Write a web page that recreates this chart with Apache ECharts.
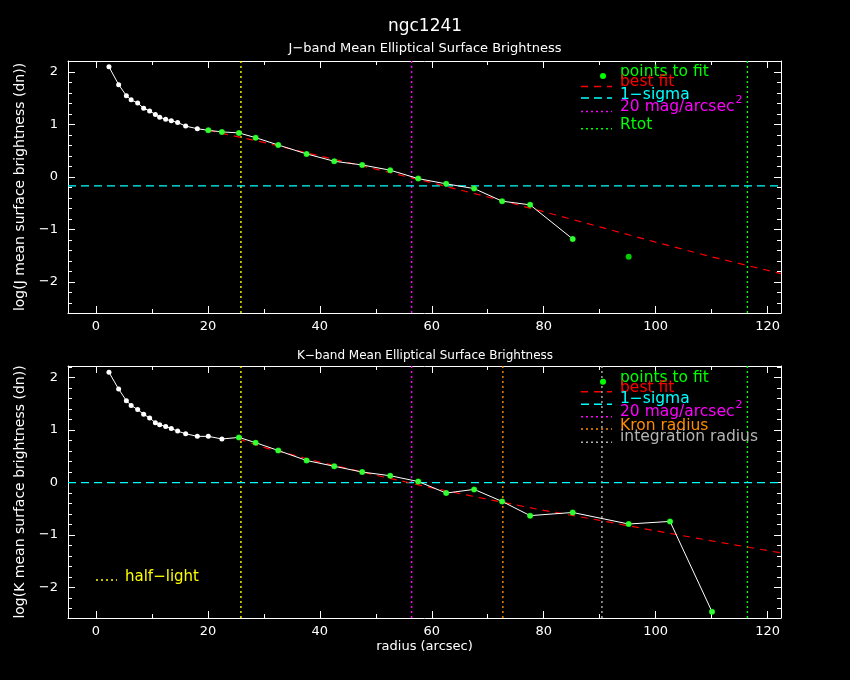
<!DOCTYPE html>
<html>
<head>
<meta charset="utf-8">
<script src="https://cdn.jsdelivr.net/npm/echarts@6/dist/echarts.min.js"></script>
<style>
html,body{margin:0;padding:0;background:#000;}
#chart{width:850px;height:680px;}
</style>
</head>
<body>
<div id="chart"></div>
<script>
// ---------------- DATA ----------------
const radius = [2.32, 4.05, 5.43, 6.28, 7.45, 8.52, 9.59, 10.61, 11.38, 12.45, 13.46, 14.59, 16.02, 18.11, 20.07, 22.5, 25.54, 28.52, 32.57, 37.63, 42.57, 47.57, 52.57, 57.57, 62.57, 67.57, 72.57, 77.57, 85.18, 95.18, 102.57, 110.07];
const jLogSB = [2.10, 1.76, 1.55, 1.47, 1.41, 1.31, 1.26, 1.19, 1.14, 1.10, 1.07, 1.04, 0.97, 0.92, 0.89, 0.86, 0.84, 0.75, 0.61, 0.44, 0.30, 0.23, 0.13, -0.03, -0.13, -0.22, -0.46, -0.53, -1.18, -1.52];
const kLogSB = [2.10, 1.78, 1.56, 1.47, 1.39, 1.30, 1.23, 1.14, 1.10, 1.07, 1.03, 0.98, 0.93, 0.88, 0.88, 0.83, 0.86, 0.76, 0.61, 0.42, 0.31, 0.20, 0.13, 0.02, -0.20, -0.13, -0.36, -0.63, -0.57, -0.79, -0.74, -2.46];
const jFitFirst = 14, jLineLast = 28;   // indices: first point to fit, last connected point
const kFitFirst = 16, kLineLast = 31;

const jBestR = [20.07, 30, 40, 50, 60, 70, 80, 90, 100, 110, 122.4];
const jBest  = [0.89, 0.66, 0.40, 0.15, -0.11, -0.38, -0.66, -0.95, -1.24, -1.52, -1.84];
const kBestR = [25.54, 30, 40, 50, 60, 70, 80, 90, 100, 110, 122.4];
const kBest  = [0.83, 0.67, 0.39, 0.14, -0.10, -0.32, -0.53, -0.72, -0.92, -1.11, -1.34];

const jSigma = -0.17, kSigma = 0.0;
const halfLight = 25.9, mag20 = 56.4, kronR = 72.7, integR = 90.4, rTot = 116.4;

const xMajorTicks = [0, 20, 40, 60, 80, 100, 120];
const xMinorTicks = [10, 30, 50, 70, 90, 110];
const yMajorTicks = [-2, -1, 0, 1, 2];
const yMinorTicks = [-2.4, -2.2, -1.8, -1.6, -1.4, -1.2, -0.8, -0.6, -0.4, -0.2, 0.2, 0.4, 0.6, 0.8, 1.2, 1.4, 1.6, 1.8, 2.2];

const title = 'ngc1241';
const jTitle = 'J\u2212band Mean Elliptical Surface Brightness';
const kTitle = 'K\u2212band Mean Elliptical Surface Brightness';
const jYName = 'log(J mean surface brightness (dn))';
const kYName = 'log(K mean surface brightness (dn))';
const xName = 'radius (arcsec)';

// ---------------- STYLE ----------------
const FONT = 'DejaVu Sans';
const C = {white:'#ffffff', green:'#00ff00', red:'#ff0000', cyan:'#00ffff', magenta:'#ff00ff', yellow:'#ffff00', orange:'#ff8c00', gray:'#b4b4b4'};
const X_MIN = -5, X_MAX = 122.4;
const grids = [
  {left:68, top:61, width:713, height:252, yMin:-2.59, yMax:2.21},
  {left:68, top:366, width:713, height:252, yMin:-2.58, yMax:2.22}
];

const pairs = (xs, ys, a, b) => ys.slice(a, b + 1).map((v, i) => [xs[a + i], v]);
const fmtY = v => (v < 0 ? '\u2212' + Math.abs(v) : String(v));

const xAxes = [], yAxes = [];
grids.forEach((g, gi) => {
  const mk = (pos, vals, len, main, labels, name) => ({
    type:'value', gridIndex:gi, position:pos, min:X_MIN, max:X_MAX,
    axisLine:{show:main, onZero:false, lineStyle:{color:C.white, width:1}},
    axisTick:{show:true, inside:true, length:len, customValues:vals, lineStyle:{color:C.white, width:1}},
    axisLabel:{show:labels, customValues:xMajorTicks, color:C.white, fontFamily:FONT, fontSize:13, margin:7},
    splitLine:{show:false},
    name:name || '', nameLocation:'middle', nameGap:22,
    nameTextStyle:{color:C.white, fontFamily:FONT, fontSize:13}
  });
  xAxes.push(mk('bottom', xMajorTicks, 7, true, true, gi === 1 ? xName : ''));
  xAxes.push(mk('bottom', xMinorTicks, 4, false, false));
  xAxes.push(mk('top', xMajorTicks, 7, true, false));
  xAxes.push(mk('top', xMinorTicks, 4, false, false));
  const mky = (pos, vals, len, main, labels, name) => ({
    type:'value', gridIndex:gi, position:pos, min:g.yMin, max:g.yMax,
    axisLine:{show:main, onZero:false, lineStyle:{color:C.white, width:1}},
    axisTick:{show:true, inside:true, length:len, customValues:vals, lineStyle:{color:C.white, width:1}},
    axisLabel:{show:labels, customValues:yMajorTicks, formatter:fmtY, color:C.white, fontFamily:FONT, fontSize:13, margin:10},
    splitLine:{show:false},
    name:name || '', nameLocation:'middle', nameGap:41, nameRotate:90,
    nameTextStyle:{color:C.white, fontFamily:FONT, fontSize:14}
  });
  yAxes.push(mky('left', yMajorTicks, 7, true, true, gi === 0 ? jYName : kYName));
  yAxes.push(mky('left', yMinorTicks, 4, false, false));
  yAxes.push(mky('right', yMajorTicks, 7, true, false));
  yAxes.push(mky('right', yMinorTicks, 4, false, false));
});

const series = [];
function vline(gi, x, color) {
  const g = grids[gi];
  series.push({type:'line', xAxisIndex:gi*4, yAxisIndex:gi*4, silent:true, showSymbol:false, symbol:'none',
    data:[[x, g.yMin], [x, g.yMax]], lineStyle:{color:color, type:[2,3], width:1.4}, z:2});
}
function hline(gi, y, color) {
  series.push({type:'line', xAxisIndex:gi*4, yAxisIndex:gi*4, silent:true, showSymbol:false, symbol:'none',
    data:[[X_MIN, y], [X_MAX, y]], lineStyle:{color:color, type:[8,5], width:1.2}, z:2});
}
// top panel (J)
vline(0, halfLight, C.yellow); vline(0, mag20, C.magenta); vline(0, rTot, C.green);
hline(0, jSigma, C.cyan);
series.push({type:'line', xAxisIndex:0, yAxisIndex:0, data:jBestR.map((r,i)=>[r, jBest[i]]), showSymbol:false, symbol:'none',
  lineStyle:{color:C.red, type:[7,6], width:1.2}, z:3});
series.push({type:'line', xAxisIndex:0, yAxisIndex:0, data:pairs(radius, jLogSB, 0, jLineLast), symbol:'circle', symbolSize:5,
  itemStyle:{color:C.white}, lineStyle:{color:C.white, width:1}, z:4});
series.push({type:'scatter', xAxisIndex:0, yAxisIndex:0, data:pairs(radius, jLogSB, jFitFirst, jLogSB.length - 1), symbol:'circle', symbolSize:6,
  itemStyle:{color:C.green}, z:5});
// bottom panel (K)
vline(1, halfLight, C.yellow); vline(1, mag20, C.magenta); vline(1, kronR, C.orange); vline(1, integR, C.gray); vline(1, rTot, C.green);
hline(1, kSigma, C.cyan);
series.push({type:'line', xAxisIndex:4, yAxisIndex:4, data:kBestR.map((r,i)=>[r, kBest[i]]), showSymbol:false, symbol:'none',
  lineStyle:{color:C.red, type:[7,6], width:1.2}, z:3});
series.push({type:'line', xAxisIndex:4, yAxisIndex:4, data:pairs(radius, kLogSB, 0, kLineLast), symbol:'circle', symbolSize:5,
  itemStyle:{color:C.white}, lineStyle:{color:C.white, width:1}, z:4});
series.push({type:'scatter', xAxisIndex:4, yAxisIndex:4, data:pairs(radius, kLogSB, kFitFirst, kLogSB.length - 1), symbol:'circle', symbolSize:6,
  itemStyle:{color:C.green}, z:5});

// ---------------- LEGEND (graphic) ----------------
const LX0 = 581, LX1 = 612, LTX = 620;
const topItems = [
  {kind:'dot', text:'points to fit', color:C.green, dy:10.5, sdy:15},
  {kind:'line', dash:[7,6], text:'best fit', color:C.red, dy:20.7, sdy:25.5},
  {kind:'line', dash:[8,5], text:'1\u2212sigma', color:C.cyan, dy:34, sdy:37},
  {kind:'line', dash:[2,3], text:'20 mag/arcsec{sup|2}', color:C.magenta, dy:45.7, sdy:50.5},
  {kind:'line', dash:[2,3], text:'Rtot', color:C.green, dy:63.5, sdy:67.7}
];
const botItems = [
  {kind:'dot', text:'points to fit', color:C.green, dy:11.7, sdy:15.7},
  {kind:'line', dash:[7,6], text:'best fit', color:C.red, dy:21.7, sdy:25.7},
  {kind:'line', dash:[8,5], text:'1\u2212sigma', color:C.cyan, dy:33, sdy:38.3},
  {kind:'line', dash:[2,3], text:'20 mag/arcsec{sup|2}', color:C.magenta, dy:45.7, sdy:50.7},
  {kind:'line', dash:[2,3], text:'Kron radius', color:C.orange, dy:59.7, sdy:63},
  {kind:'line', dash:[2,3], text:'integration radius', color:C.gray, dy:70.7, sdy:76.3}
];
const graphic = [];
function addLegend(items, top) {
  items.forEach(it => {
    if (it.kind === 'dot') {
      graphic.push({type:'circle', shape:{cx:603, cy:top + it.sdy, r:3}, style:{fill:it.color}, z:100});
    } else {
      graphic.push({type:'line', shape:{x1:LX0, y1:top + it.sdy, x2:LX1, y2:top + it.sdy},
        style:{stroke:it.color, lineWidth:1.4, lineDash:it.dash}, z:100});
    }
    graphic.push({type:'text', x:LTX, y:top + it.dy, z:100, style:{
      text:it.text, fill:it.color, font:'15.5px "' + FONT + '"', verticalAlign:'middle', align:'left',
      rich:{sup:{fontSize:11, fontFamily:FONT, fill:it.color, verticalAlign:'top', lineHeight:24, padding:[0,0,8,1]}}
    }});
  });
}
addLegend(topItems, grids[0].top);
addLegend(botItems, grids[1].top);
// half-light label
graphic.push({type:'line', shape:{x1:96, y1:580, x2:117, y2:580}, style:{stroke:C.yellow, lineWidth:1.4, lineDash:[2,3]}, z:100});
graphic.push({type:'text', x:125, y:577, z:100, style:{text:'half\u2212light', fill:C.yellow, font:'15px "' + FONT + '"', verticalAlign:'middle'}});

const option = {
  backgroundColor:'#000000',
  animation:false,
  title:[
    {text:title, left:'center', top:13, textStyle:{color:C.white, fontFamily:FONT, fontSize:17, fontWeight:'normal'}},
    {text:jTitle, left:'center', top:37, textStyle:{color:C.white, fontFamily:FONT, fontSize:13, fontWeight:'normal'}},
    {text:kTitle, left:'center', top:345, textStyle:{color:C.white, fontFamily:FONT, fontSize:12, fontWeight:'normal'}}
  ],
  grid:grids.map(g => ({left:g.left, top:g.top, width:g.width, height:g.height, containLabel:false})),
  xAxis:xAxes,
  yAxis:yAxes,
  series:series,
  graphic:graphic
};
const chart = echarts.init(document.getElementById('chart'));
chart.setOption(option);
</script>
</body>
</html>
